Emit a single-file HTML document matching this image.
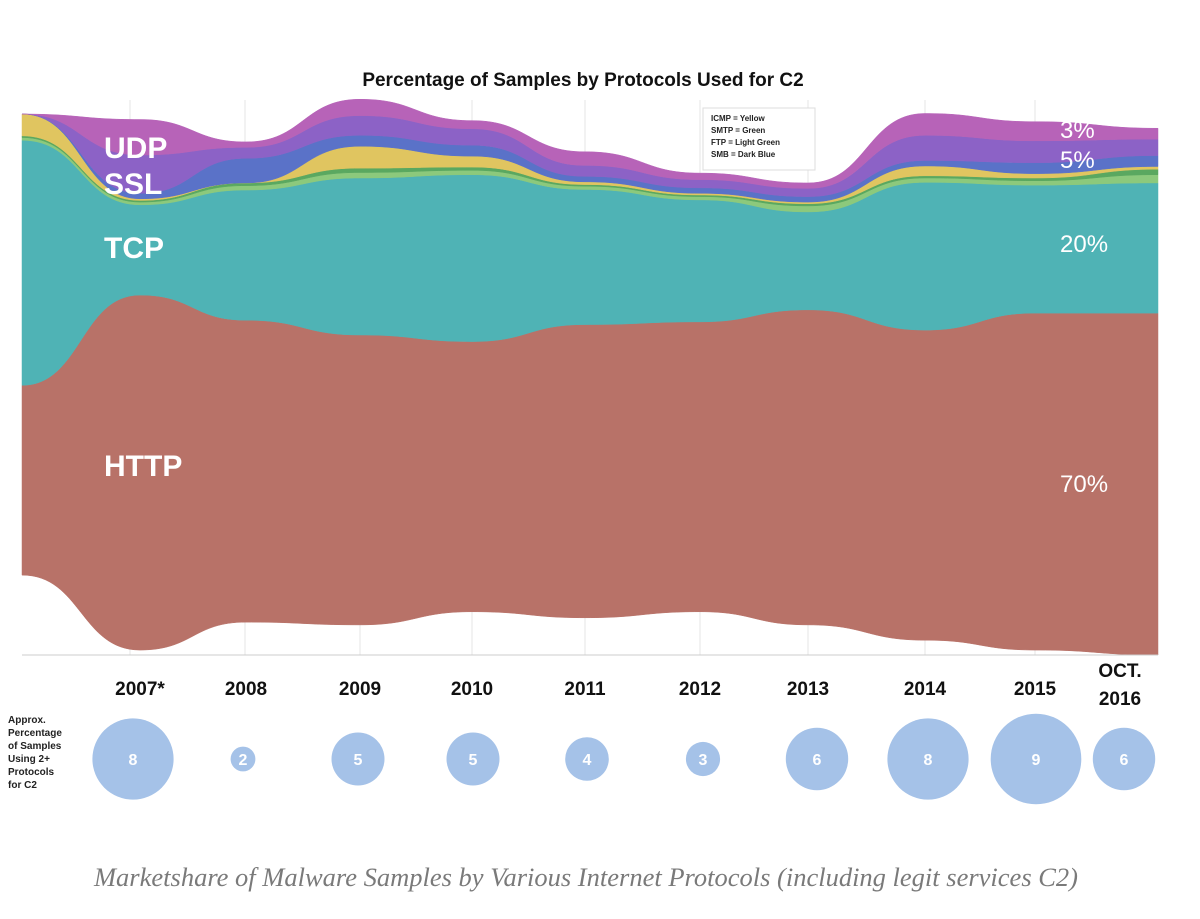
<!DOCTYPE html>
<html><head><meta charset="utf-8">
<style>
html,body{margin:0;padding:0;background:#fff;}
body{width:1200px;height:919px;overflow:hidden;position:relative;font-family:"Liberation Sans",Arial,sans-serif;}
svg{position:absolute;left:0;top:0;}
</style></head>
<body>
<svg width="1200" height="919" viewBox="0 0 1200 919">
<text x="583" y="86" text-anchor="middle" font-size="19" font-weight="bold" fill="#111">Percentage of Samples by Protocols Used for C2</text>
<g id="grid"></g>
<g id="layers"></g>
<line x1="22" y1="655" x2="1158" y2="655" stroke="#ccc" stroke-width="1"/>
<g>
<rect x="703" y="108" width="112" height="62" fill="#fff" stroke="#ddd"/>
<text x="711" y="121" font-size="8" font-weight="bold" fill="#222">ICMP = Yellow</text>
<text x="711" y="133" font-size="8" font-weight="bold" fill="#222">SMTP = Green</text>
<text x="711" y="145" font-size="8" font-weight="bold" fill="#222">FTP = Light Green</text>
<text x="711" y="157" font-size="8" font-weight="bold" fill="#222">SMB = Dark Blue</text>
</g>
<g font-weight="bold" fill="#fff" font-size="30">
<text x="104" y="158">UDP</text>
<text x="104" y="194">SSL</text>
<text x="104" y="258">TCP</text>
<text x="104" y="476">HTTP</text>
<text x="1060" y="138" font-size="24" font-weight="normal">3%</text>
<text x="1060" y="168" font-size="24" font-weight="normal">5%</text>
<text x="1060" y="252" font-size="24" font-weight="normal">20%</text>
<text x="1060" y="492" font-size="24" font-weight="normal">70%</text>
</g>
<g id="xlabels"></g>
<g font-size="10" font-weight="bold" fill="#222">
<text x="8" y="723">Approx.</text>
<text x="8" y="736">Percentage</text>
<text x="8" y="749">of Samples</text>
<text x="8" y="762">Using 2+</text>
<text x="8" y="775">Protocols</text>
<text x="8" y="788">for C2</text>
</g>
<g id="bubbles"></g>
<text x="586" y="886" text-anchor="middle" font-family="Liberation Serif, serif" font-style="italic" font-size="26.5" fill="#7a7a7a">Marketshare of Malware Samples by Various Internet Protocols (including legit services C2)</text>
</svg>
<script>
const xPoints = ["start","2007","2008","2009","2010","2011","2012","2013","2014","2015","2016"];
const baseline = [14.6,0.9,6,5.5,7.9,6.8,7.9,5.5,2.7,0.9,0];
const http = [34.7,64.9,55.2,53,49.4,53.6,53,57.6,56.7,61.6,62.5];
const tcp = [44.8,16.5,23.8,28.7,30.5,24.7,22.3,17.9,27,23.4,23.8];
const ftp = [0.5,0.5,0.8,1,0.8,0.6,0.6,1.1,0.8,0.8,1.5];
const smtp = [0.3,0.3,0.5,0.8,0.6,0.3,0.3,0.4,0.4,0.5,1];
const icmp = [4,0.3,0,4,2,0.5,0.3,0.3,1.8,0.8,0.5];
const smb = [0,1,4.5,2,2,1,1,1,1,2,2];
const ssl = [0,7,2,3.6,3,2,1.5,1.5,4.6,4,3];
const udp = [0,6.5,1,3,1.5,2.5,1.2,1,4,3.5,2];
const years = ["2007*","2008","2009","2010","2011","2012","2013","2014","2015","OCT."];
const bubbleVals = [8,2,5,5,4,3,6,8,9,6];

const NS="http://www.w3.org/2000/svg";
const xPix=[22,140,246,360,472,585,700,808,925,1035,1158];
const xScale=i=>xPix[i];
const yScale=v=>655-v*5.47;
const layers=[["http",http,"#b87268"],["tcp",tcp,"#4fb3b5"],["ftp",ftp,"#8cc97c"],["smtp",smtp,"#5aa860"],["icmp",icmp,"#e0c560"],["smb",smb,"#5a72c8"],["ssl",ssl,"#8c62c6"],["udp",udp,"#b763b8"]];
function curve(pts){let d="";pts.forEach((p,i)=>{if(i===0)d+="M"+p[0]+","+p[1];else{const q=pts[i-1];const mx=(q[0]+p[0])/2;d+="C"+mx+","+q[1]+" "+mx+","+p[1]+" "+p[0]+","+p[1];}});return d;}
const grid=document.getElementById("grid");
[130,245,360,472,585,700,808,925,1035].forEach(x=>{const l=document.createElementNS(NS,"line");


l.setAttribute("x1",x);l.setAttribute("x2",x);l.setAttribute("y1",100);l.setAttribute("y2",655);l.setAttribute("stroke","#e4e4e4");grid.appendChild(l);});
const g=document.getElementById("layers");
let cum=baseline.slice();
layers.forEach(([name,vals,col])=>{
  const lower=cum.map((v,i)=>[xScale(i),yScale(v)]);
  const next=cum.map((v,i)=>v+vals[i]);
  const upper=next.map((v,i)=>[xScale(i),yScale(v)]);
  const rev=lower.slice().reverse();
  let d=curve(upper)+"L"+rev[0][0]+","+rev[0][1]+curve(rev).replace(/^M[^C]*/,"")+"Z";
  const p=document.createElementNS(NS,"path");
  
  
  p.setAttribute("d",d);p.setAttribute("fill",col);p.setAttribute("stroke",col);p.setAttribute("stroke-width","0.5");
  g.appendChild(p);cum=next;
});
const xl=document.getElementById("xlabels");
const lx=[140,246,360,472,585,700,808,925,1035,1120];
years.forEach((y,i)=>{const t=document.createElementNS(NS,"text");


t.setAttribute("x",lx[i]);t.setAttribute("y",i===9?677:695);t.setAttribute("text-anchor","middle");t.setAttribute("font-size","19");t.setAttribute("font-weight","bold");t.setAttribute("fill","#111");t.textContent=y;xl.appendChild(t);});
const t2=document.createElementNS(NS,"text");


t2.setAttribute("x",1120);t2.setAttribute("y",705);t2.setAttribute("text-anchor","middle");t2.setAttribute("font-size","19");t2.setAttribute("font-weight","bold");t2.setAttribute("fill","#111");t2.textContent="2016";xl.appendChild(t2);
const bg=document.getElementById("bubbles");
const bx=[133,243,358,473,587,703,817,928,1036,1124];
bubbleVals.forEach((v,i)=>{const c=document.createElementNS(NS,"circle");


c.setAttribute("cx",bx[i]);c.setAttribute("cy",759);c.setAttribute("r",v*4.7+3);c.setAttribute("fill","#a5c2e8");bg.appendChild(c);
const t=document.createElementNS(NS,"text");


t.setAttribute("x",bx[i]);t.setAttribute("y",765);t.setAttribute("text-anchor","middle");t.setAttribute("font-size","16");t.setAttribute("font-weight","bold");t.setAttribute("fill","#fff");t.textContent=v;bg.appendChild(t);});
</script>
</body></html>
